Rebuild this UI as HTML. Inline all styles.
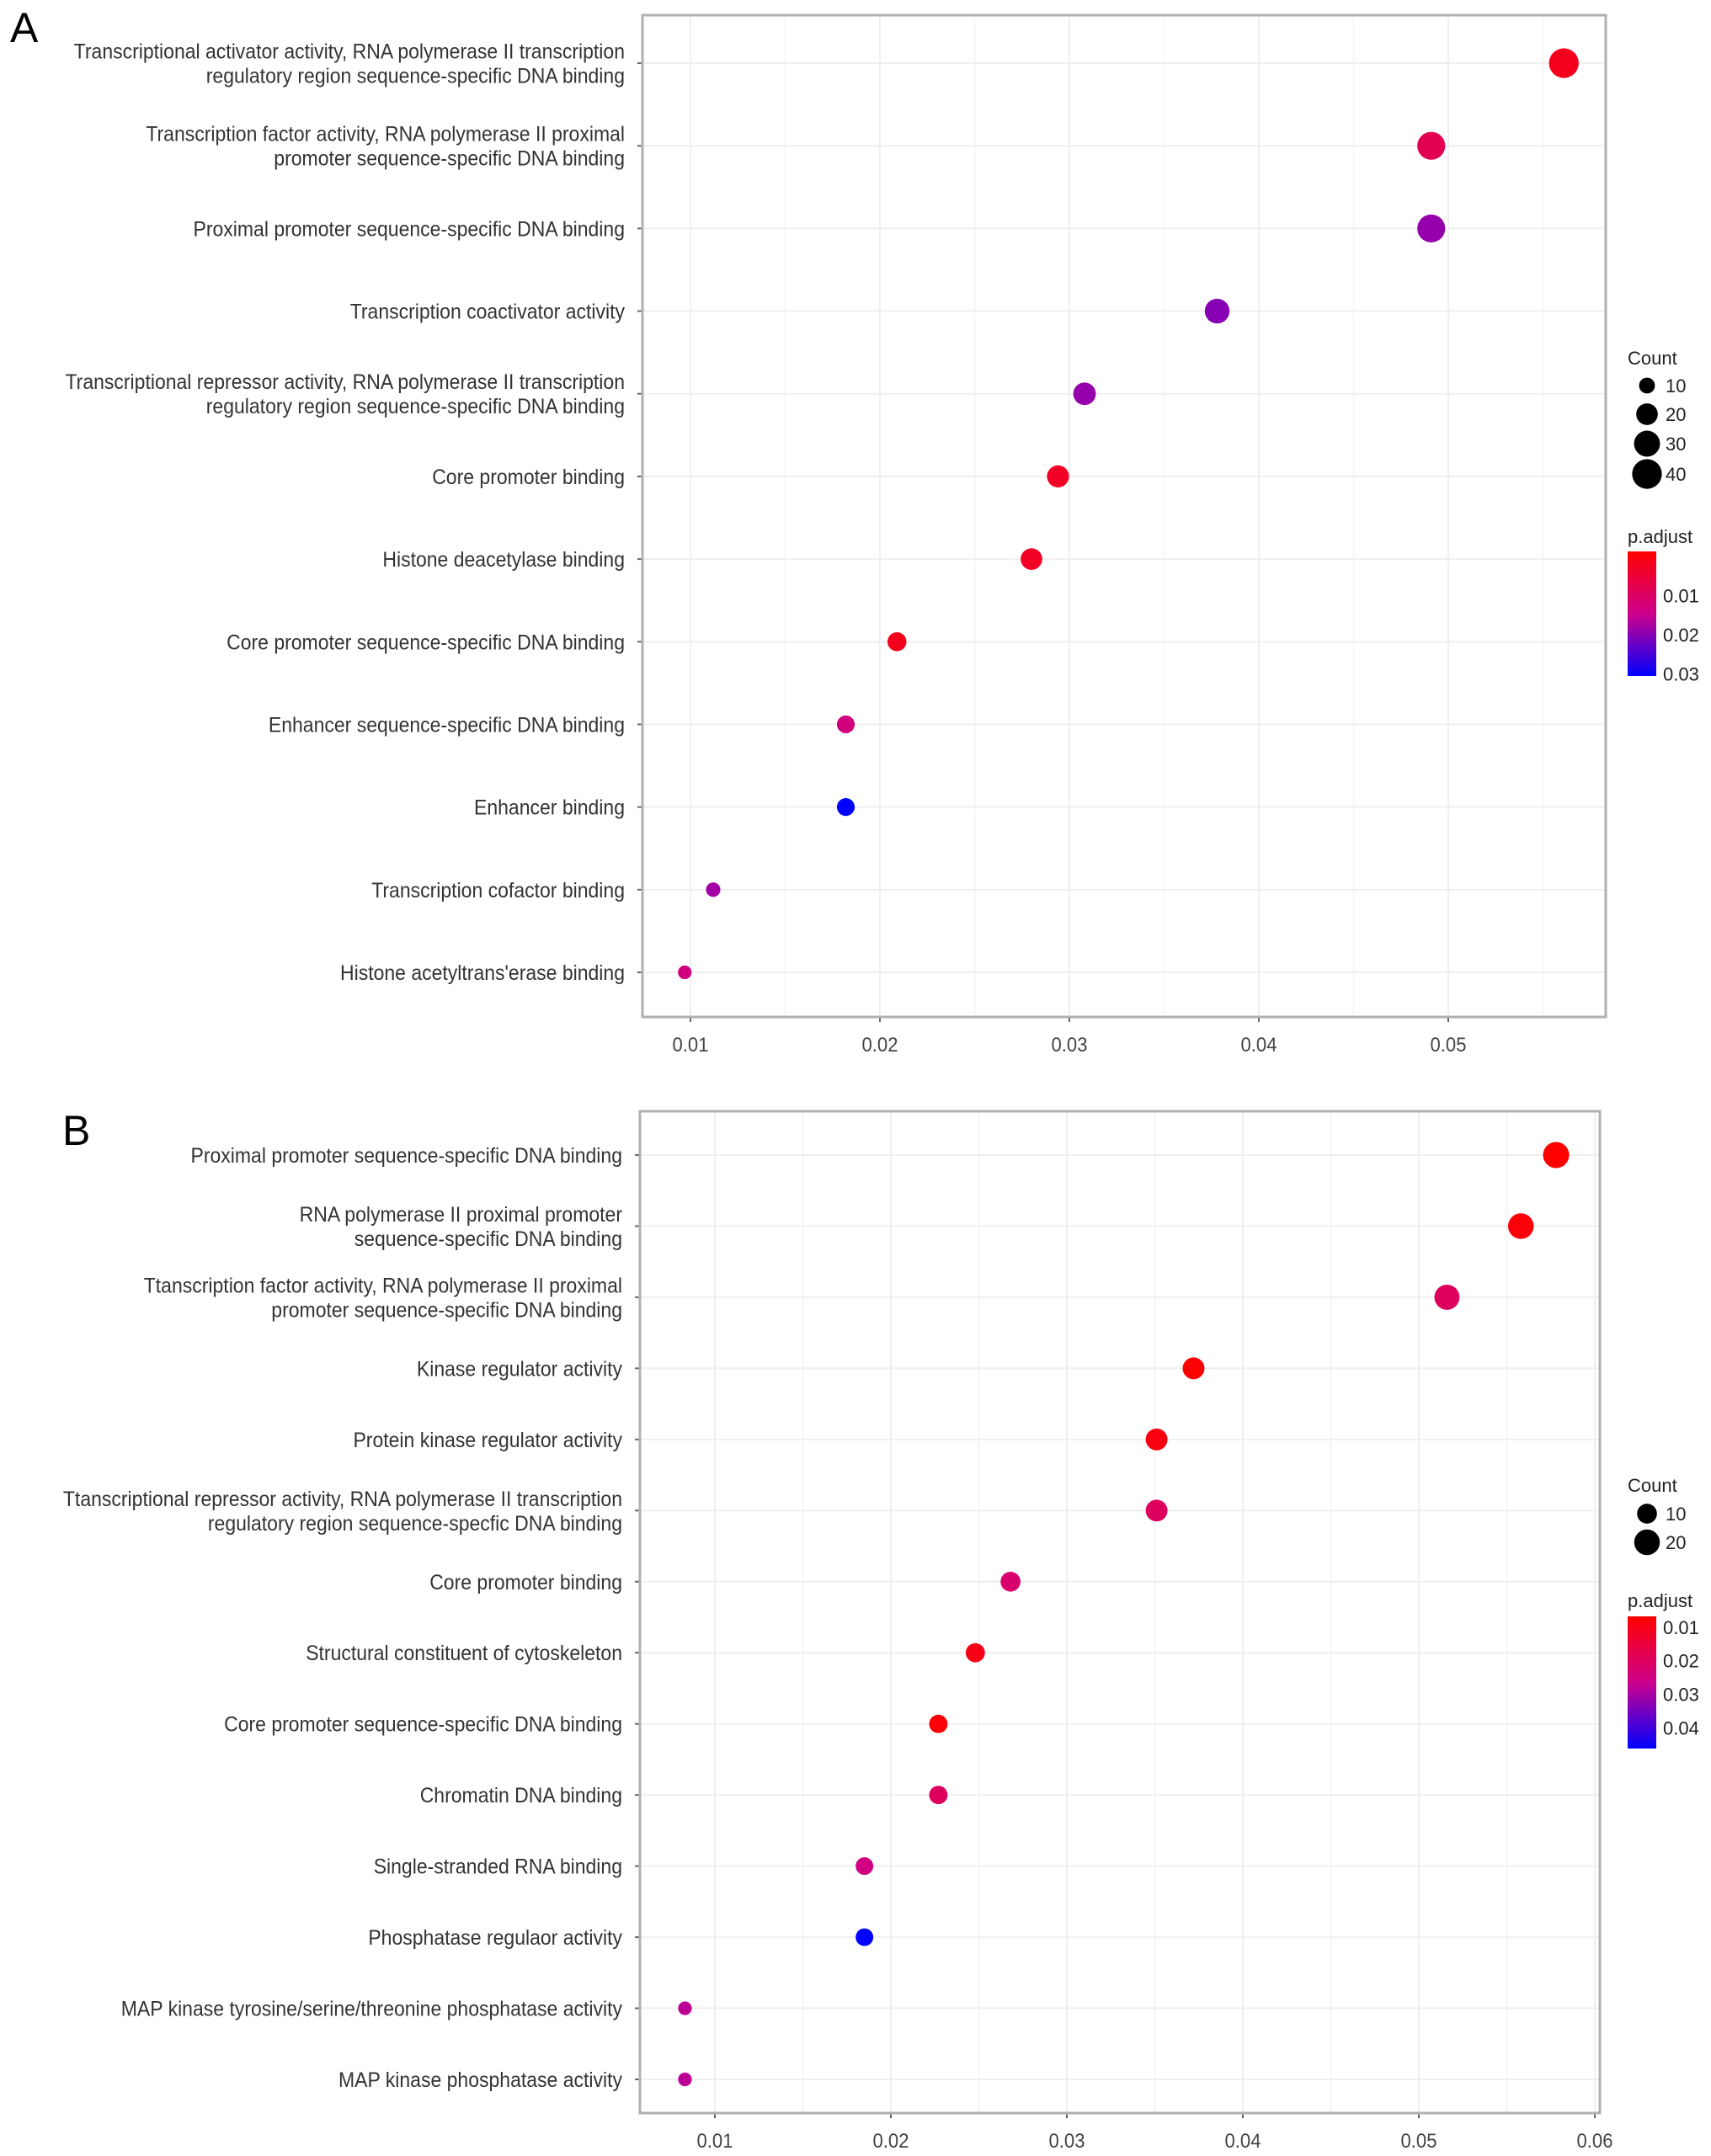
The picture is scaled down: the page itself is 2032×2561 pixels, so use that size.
<!DOCTYPE html>
<html><head><meta charset="utf-8">
<style>
html,body{margin:0;padding:0;background:#fff;}
svg{display:block;font-family:"Liberation Sans",Arial,sans-serif;}
</style></head>
<body>
<svg id="chart" width="2032" height="2561" viewBox="0 0 2032 2561" xmlns="http://www.w3.org/2000/svg">
<rect width="2032" height="2561" fill="#fff"/>
<text x="12" y="50" font-size="50" fill="#000">A</text>
<text x="74" y="1360" font-size="50" fill="#000">B</text>
</svg>
<script>
// Panel A data
const catsA = [
 ["Transcriptional activator activity, RNA polymerase II transcription","regulatory region sequence-specific DNA binding"],
 ["Transcription factor activity, RNA polymerase II proximal","promoter sequence-specific DNA binding"],
 ["Proximal promoter sequence-specific DNA binding"],
 ["Transcription coactivator activity"],
 ["Transcriptional repressor activity, RNA polymerase II transcription","regulatory region sequence-specific DNA binding"],
 ["Core promoter binding"],
 ["Histone deacetylase binding"],
 ["Core promoter sequence-specific DNA binding"],
 ["Enhancer sequence-specific DNA binding"],
 ["Enhancer binding"],
 ["Transcription cofactor binding"],
 ["Histone acetyltrans'erase binding"]
];
const ratioA = [0.0561,0.0491,0.0491,0.0378,0.0308,0.0294,0.0280,0.0209,0.0182,0.0182,0.0112,0.0097];
const countA = [40,35,35,27,22,21,20,15,13,13,8,7];
const padjA = [0.002,0.008,0.019,0.020,0.019,0.003,0.003,0.002,0.013,0.031,0.018,0.013];
const ticksA = [0.01,0.02,0.03,0.04,0.05];
const sizeLegA = [10,20,30,40];
const colorTicksA = [0.01,0.02,0.03];

// Panel B data
const catsB = [
 ["Proximal promoter sequence-specific DNA binding"],
 ["RNA polymerase II proximal promoter","sequence-specific DNA binding"],
 ["Ttanscription factor activity, RNA polymerase II proximal","promoter sequence-specific DNA binding"],
 ["Kinase regulator activity"],
 ["Protein kinase regulator activity"],
 ["Ttanscriptional repressor activity, RNA polymerase II transcription","regulatory region sequence-specfic DNA binding"],
 ["Core promoter binding"],
 ["Structural constituent of cytoskeleton"],
 ["Core promoter sequence-specific DNA binding"],
 ["Chromatin DNA binding"],
 ["Single-stranded RNA binding"],
 ["Phosphatase regulaor activity"],
 ["MAP kinase tyrosine/serine/threonine phosphatase activity"],
 ["MAP kinase phosphatase activity"]
];
const ratioB = [0.0578,0.0558,0.0516,0.0372,0.0351,0.0351,0.0268,0.0248,0.0227,0.0227,0.0185,0.0185,0.0083,0.0083];
const countB = [21,20,19,13,13,13,10,9,8,8,7,7,3,3];
const padjB = [0.006,0.008,0.020,0.007,0.009,0.020,0.022,0.010,0.008,0.020,0.025,0.046,0.028,0.028];
const ticksB = [0.01,0.02,0.03,0.04,0.05,0.06];
const sizeLegB = [10,20];
const colorTicksB = [0.01,0.02,0.03,0.04];

const NS="http://www.w3.org/2000/svg";
const svg=document.getElementById('chart');
function mk(tag,attrs,parent){const e=document.createElementNS(NS,tag);for(const k in attrs)e.setAttribute(k,attrs[k]);(parent||svg).appendChild(e);return e;}
function lerp(a,b,t){return a+(b-a)*t;}
function colorAt(t){
  t=Math.max(0,Math.min(1,t));
  const s=[[255,0,0],[205,0,140],[0,0,255]];
  let c;
  if(t<0.5){const u=t/0.5;c=s[0].map((v,i)=>Math.round(lerp(v,s[1][i],u)));}
  else{const u=(t-0.5)/0.5;c=s[1].map((v,i)=>Math.round(lerp(v,s[2][i],u)));}
  return 'rgb('+c.join(',')+')';
}

function panel(cfg){
  const {id,L,R,T,B,y0,y1,x0,x1,xv0,xv1,cats,ratio,count,padj,ticks,sizeLeg,cTicks,pmin,pmax,ra,rb,leg}=cfg;
  const g=mk('g',{});
  
  
  const xs=v=>x0+(v-xv0)/(xv1-xv0)*(x1-x0);
  const ys=i=>y0+(y1-y0)*i/(cats.length-1);
  const rs=c=>ra*Math.sqrt(c)+rb;
  const cs=p=>colorAt((p-pmin)/(pmax-pmin));
  for(let i=0;i<ticks.length+1;i++){
    const v=ticks[0]-0.005+i*0.01;
    const x=xs(v);
    if(x>L&&x<R){const l=mk('line',{x1:x,x2:x,y1:T,y2:B,stroke:'#f4f4f4','stroke-width':1.5},g);
      
      }
  }
  ticks.forEach(v=>{const x=xs(v);
    const l=mk('line',{x1:x,x2:x,y1:T,y2:B,stroke:'#efefef','stroke-width':2},g);
    
    
    const tk=mk('line',{x1:x,x2:x,y1:B,y2:B+6,stroke:'#666','stroke-width':2},g);
    
    
    const t=mk('text',{x:0,y:0,'font-size':24,fill:'#444','text-anchor':'middle',transform:'translate('+x+','+(B+41)+') scale(0.92,1)'},g);
    t.textContent=v.toFixed(2);
    
    
  });
  cats.forEach((lines,i)=>{const y=ys(i);
    const l=mk('line',{x1:L,x2:R,y1:y,y2:y,stroke:'#efefef','stroke-width':2},g);
    
    
    const tk=mk('line',{x1:L-6,x2:L,y1:y,y2:y,stroke:'#666','stroke-width':2},g);
    
    
    const n=lines.length;
    lines.forEach((s,j)=>{
      const ty=y+9+(j-(n-1)/2)*29;
      const t=mk('text',{x:0,y:0,'font-size':25,fill:'#333','text-anchor':'end',transform:'translate('+(L-21)+','+ty+') scale(0.92,1)'},g);
      t.textContent=s;
      
      
    });
  });
  const frame=mk('rect',{x:L,y:T,width:R-L,height:B-T,fill:'none',stroke:'#b0b0b0','stroke-width':3},g);
  
  
  cats.forEach((lines,i)=>{
    const c=mk('circle',{cx:xs(ratio[i]),cy:ys(i),r:rs(count[i]),fill:cs(padj[i])},g);
    
    
  });
  const lx=1933;
  let t=mk('text',{x:lx,y:leg.countY,'font-size':22,fill:'#222'},g);
  t.textContent='Count';
  
  
  sizeLeg.forEach((c,k)=>{const cy=leg.sizeY[k];
    const e=mk('circle',{cx:1956,cy:cy,r:rs(c),fill:'#000'},g);
    
    
    const tt=mk('text',{x:1978,y:cy+8,'font-size':22,fill:'#222'},g);
    tt.textContent=c;
    
    
  });
  t=mk('text',{x:lx,y:leg.pY,'font-size':22,fill:'#222'},g);
  t.textContent='p.adjust';
  
  
  const gid='grad-'+id;
  const defs=mk('defs',{},g);
  const lg=mk('linearGradient',{id:gid,x1:0,y1:0,x2:0,y2:1},defs);
  for(let k=0;k<=10;k++){mk('stop',{offset:k/10,'stop-color':colorAt(k/10)},lg);}
  const bar=mk('rect',{x:lx,y:leg.barT,width:34,height:leg.barB-leg.barT,fill:'url(#'+gid+')'},g);
  
  
  const by=v=>leg.barT+(v-pmin)/(pmax-pmin)*(leg.barB-leg.barT);
  cTicks.forEach(v=>{const y=by(v);
    const tt=mk('text',{x:1975,y:y+8,'font-size':22,fill:'#222'},g);
    tt.textContent=v.toFixed(2);
    
    
  });
}

panel({id:'a',L:763,R:1907,T:18,B:1208,y0:75,y1:1155,x0:820,x1:1720,xv0:0.01,xv1:0.05,
  cats:catsA,ratio:ratioA,count:countA,padj:padjA,ticks:ticksA,sizeLeg:sizeLegA,cTicks:colorTicksA,
  pmin:-0.0012,pmax:0.0305,ra:2.6,rb:1.2,
  leg:{countY:433,sizeY:[458,492,527,563],pY:645,barT:655,barB:803}});
panel({id:'b',L:760,R:1900,T:1320,B:2510,y0:1372,y1:2470,x0:849,x1:1894,xv0:0.01,xv1:0.06,
  cats:catsB,ratio:ratioB,count:countB,padj:padjB,ticks:ticksB,sizeLeg:sizeLegB,cTicks:colorTicksB,
  pmin:0.0068,pmax:0.0461,ra:2.6,rb:3.6,
  leg:{countY:1772,sizeY:[1798,1832],pY:1909,barT:1920,barB:2077}});
</script>
</body></html>
